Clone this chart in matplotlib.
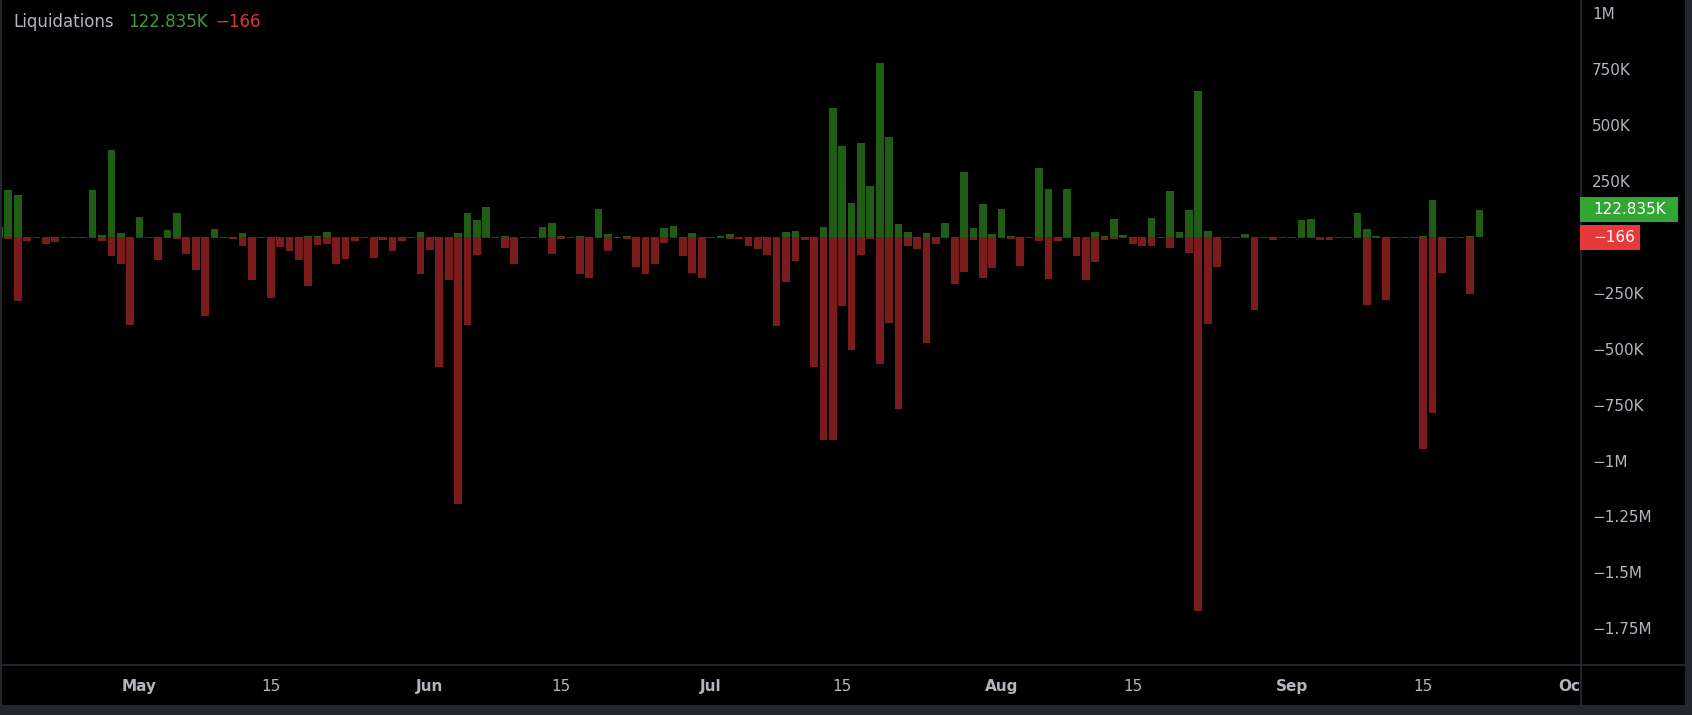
import pandas as pd
import matplotlib
matplotlib.use("Agg")
import matplotlib.pyplot as plt
import matplotlib.dates as mdates
import matplotlib.transforms as mtransforms
from matplotlib.patches import Rectangle
from matplotlib.lines import Line2D

W, H = 1692, 715

# daily liquidations, thousands (first bar is Apr 16, only a sliver is visible)
start_day = "2023-04-16"
long_k = [45, 212, 189, 2, 2, 2, 2, 2, 2, 2, 212, 10, 390, 18, 2, 89, 2, 2, 30, 107,
          2, 2, 2, 36, 2, 2, 18, 2, 2, 2, 2, 2, 2, 6, 6, 24, 2, 2, 2, 2,
          2, 2, 2, 2, 2, 24, 2, 2, 2, 16, 107, 75, 134, 2, 6, 2, 2, 2, 45, 63,
          6, 2, 6, 2, 125, 12, 2, 6, 2, 2, 2, 39, 51, 2, 18, 2, 2, 6, 12, 2,
          2, 2, 2, 2, 24, 28, 2, 2, 45, 577, 408, 152, 420, 229, 778, 447, 58, 24, 2, 18,
          2, 63, 2, 291, 40, 148, 13, 125, 6, 2, 2, 310, 215, 2, 215, 2, 2, 21, 6, 80,
          7, 2, 2, 85, 2, 204, 21, 119, 651, 25, 2, 2, 2, 13, 2, 2, 2, 2, 2, 75,
          80, 2, 2, 2, 2, 107, 36, 6, 2, 2, 2, 2, 6, 164, 2, 2, 2, 6, 122.835]
short_k = [5, 10, 288, 19, 3, 31, 21, 3, 3, 3, 3, 19, 86, 121, 395, 3, 6, 104, 3, 7,
           76, 149, 355, 3, 3, 9, 42, 194, 6, 273, 46, 64, 104, 220, 37, 30, 121, 98, 16, 3,
           92, 13, 64, 19, 3, 165, 57, 580, 194, 1193, 395, 82, 6, 3, 48, 121, 3, 3, 6, 76,
           9, 3, 165, 182, 3, 64, 3, 9, 136, 165, 121, 27, 6, 86, 161, 182, 3, 3, 9, 10,
           42, 53, 82, 399, 203, 109, 15, 583, 906, 906, 310, 504, 82, 9, 566, 384, 769, 42, 54, 474,
           31, 3, 210, 158, 15, 183, 139, 3, 7, 128, 3, 19, 188, 19, 3, 86, 194, 113, 12, 9,
           3, 31, 42, 42, 3, 49, 3, 72, 1671, 388, 134, 3, 3, 3, 328, 3, 15, 3, 3, 3,
           3, 12, 15, 3, 3, 3, 305, 3, 283, 3, 3, 3, 948, 787, 161, 3, 3, 255, 0.166]

last_long = 122835
last_short = -166

tick_dates = ["2023-05-01", "2023-05-15", "2023-06-01", "2023-06-15", "2023-07-01",
              "2023-07-15", "2023-08-01", "2023-08-15", "2023-09-01", "2023-09-15",
              "2023-10-01"]
tick_labels = ["May", "15", "Jun", "15", "Jul", "15", "Aug", "15", "Sep", "15", "Oct"]
y_ticks = [1e6, 750e3, 500e3, 250e3, -250e3, -500e3, -750e3, -1e6, -1.25e6, -1.5e6, -1.75e6]

GREEN = "#1f5c14"
RED = "#7c1b1b"
TXT = "#b2b5be"
SEP = "#2a2e39"
FRAME = "#23262f"


def fx(px):
    return px / W


def fy(py):
    return 1 - py / H


def fmt_val(v):
    if abs(v) >= 1e6:
        s = f"{v / 1e6:g}M"
    elif abs(v) >= 1e3:
        s = f"{v / 1e3:g}K"
    else:
        s = f"{v:g}"
    return s.replace("-", "\u2212")


dates = pd.date_range(start_day, periods=len(long_k), freq="D")
xs = mdates.date2num(dates)
longs = [v * 1000 for v in long_k]
shorts = [-v * 1000 for v in short_k]

fig = plt.figure(figsize=(W / 100, H / 100), dpi=100, facecolor=FRAME)
fig.add_artist(Rectangle((fx(2), fy(705)), fx(1685) - fx(2), fy(0) - fy(705),
                         transform=fig.transFigure, facecolor="black", edgecolor="none", zorder=-5))

ax = fig.add_axes([fx(2), fy(664), fx(1580) - fx(2), fy(0) - fy(664)])
ax.set_facecolor("black")
ax.bar(xs, longs, width=0.82, color=GREEN, linewidth=0)
ax.bar(xs, shorts, width=0.82, color=RED, linewidth=0)

# one day = 9.37 px, bar for Apr 17 centred at x = 8.3 px
ax.set_xlim(xs[1] - (8.3 - 2) / 9.37, xs[1] + (1580 - 8.3) / 9.37)
ax.set_ylim(-1.910e6, 1.060e6)

for s in ax.spines.values():
    s.set_visible(False)

ax.yaxis.tick_right()
ax.set_yticks(y_ticks)
ax.set_yticklabels([fmt_val(v) for v in y_ticks])
ax.tick_params(axis="y", length=0, pad=8.6, labelsize=11, labelcolor=TXT)

ax.set_xticks(mdates.date2num(pd.to_datetime(tick_dates)))
ax.set_xticklabels(tick_labels)
ax.tick_params(axis="x", length=0, pad=11, labelsize=11, labelcolor=TXT)
for lab in ax.get_xticklabels():
    if not lab.get_text().isdigit():
        lab.set_fontweight("bold")

# cover the part of the "Oct" label that runs under the price scale
fig.add_artist(Rectangle((fx(1581), fy(705)), fx(1685) - fx(1581), fy(664) - fy(705),
                         transform=fig.transFigure, facecolor="black", edgecolor="none", zorder=5))

# separators
fig.add_artist(Line2D([fx(1580.5), fx(1580.5)], [fy(0), fy(705)], transform=fig.transFigure,
                      color=SEP, linewidth=1.1, zorder=6))
fig.add_artist(Line2D([fx(2), fx(1685)], [fy(664.5), fy(664.5)], transform=fig.transFigure,
                      color=SEP, linewidth=1.1, zorder=6))

# price tags on the scale
blend = mtransforms.blended_transform_factory(fig.transFigure, ax.transData)
y0, y1 = ax.get_ylim()
tag_h = (y1 - y0) * 25 / 664
for val, color, right in [(last_long, "#33a532", 1678), (last_short, "#e8393a", 1640)]:
    fig.add_artist(Rectangle((fx(1580), val - tag_h / 2), fx(right) - fx(1580), tag_h,
                             transform=blend, facecolor=color, edgecolor="none", zorder=7))
    fig.text(fx(1593), val, fmt_val(val), transform=blend, color="white", fontsize=11,
             va="center", ha="left", zorder=8)

# legend line at top-left
fig.text(fx(13), fy(27), "Liquidations", color=TXT, fontsize=12, va="baseline")
fig.text(fx(128), fy(27), fmt_val(last_long), color="#3c9f3c", fontsize=12, va="baseline")
fig.text(fx(215), fy(27), fmt_val(last_short), color="#d9363e", fontsize=12, va="baseline")

fig.savefig("out.png", dpi=100, facecolor=FRAME)
